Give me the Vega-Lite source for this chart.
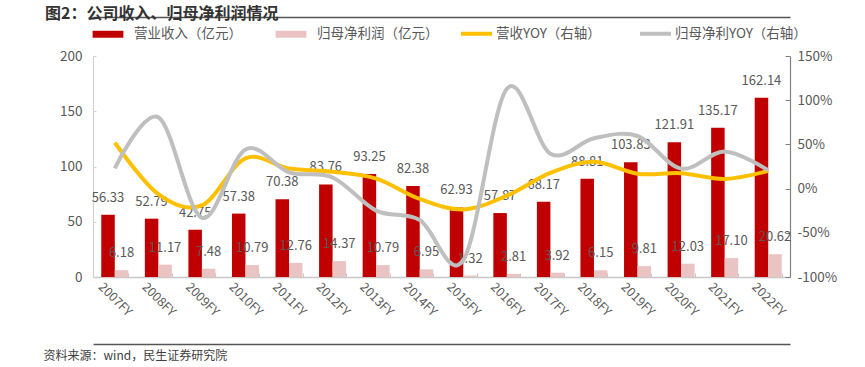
{
  "$schema": "https://vega.github.io/schema/vega-lite/v6.json",
  "width": 697,
  "height": 221,
  "autosize": {"type": "none"},
  "padding": {"left": 93, "top": 56, "right": 75, "bottom": 90},
  "background": "white",
  "config": {
    "view": {"stroke": null},
    "font": "Noto Sans CJK SC",
    "axis": {"labelFont": "Noto Sans CJK SC", "labelColor": "#595959", "domainColor": "#8c8c8c", "tickColor": "#8c8c8c", "grid": false}
  },
  "title": {
    "text": "图2：公司收入、归母净利润情况",
    "anchor": "start",
    "frame": "group",
    "dx": -48,
    "dy": 10,
    "fontSize": 16,
    "fontWeight": "bold",
    "color": "#333333",
    "font": "Noto Sans CJK SC",
    "offset": 2
  },
  "datasets": {
    "bars": [
      {"year": "2007FY", "series": "营业收入（亿元）", "value": 56.33},
      {"year": "2008FY", "series": "营业收入（亿元）", "value": 52.79},
      {"year": "2009FY", "series": "营业收入（亿元）", "value": 42.75},
      {"year": "2010FY", "series": "营业收入（亿元）", "value": 57.38},
      {"year": "2011FY", "series": "营业收入（亿元）", "value": 70.38},
      {"year": "2012FY", "series": "营业收入（亿元）", "value": 83.76},
      {"year": "2013FY", "series": "营业收入（亿元）", "value": 93.25},
      {"year": "2014FY", "series": "营业收入（亿元）", "value": 82.38},
      {"year": "2015FY", "series": "营业收入（亿元）", "value": 62.93},
      {"year": "2016FY", "series": "营业收入（亿元）", "value": 57.87},
      {"year": "2017FY", "series": "营业收入（亿元）", "value": 68.17},
      {"year": "2018FY", "series": "营业收入（亿元）", "value": 88.81},
      {"year": "2019FY", "series": "营业收入（亿元）", "value": 103.83},
      {"year": "2020FY", "series": "营业收入（亿元）", "value": 121.91},
      {"year": "2021FY", "series": "营业收入（亿元）", "value": 135.17},
      {"year": "2022FY", "series": "营业收入（亿元）", "value": 162.14},
      {"year": "2007FY", "series": "归母净利润（亿元）", "value": 6.18},
      {"year": "2008FY", "series": "归母净利润（亿元）", "value": 11.17},
      {"year": "2009FY", "series": "归母净利润（亿元）", "value": 7.48},
      {"year": "2010FY", "series": "归母净利润（亿元）", "value": 10.79},
      {"year": "2011FY", "series": "归母净利润（亿元）", "value": 12.76},
      {"year": "2012FY", "series": "归母净利润（亿元）", "value": 14.37},
      {"year": "2013FY", "series": "归母净利润（亿元）", "value": 10.79},
      {"year": "2014FY", "series": "归母净利润（亿元）", "value": 6.95},
      {"year": "2015FY", "series": "归母净利润（亿元）", "value": 1.32},
      {"year": "2016FY", "series": "归母净利润（亿元）", "value": 2.81},
      {"year": "2017FY", "series": "归母净利润（亿元）", "value": 3.92},
      {"year": "2018FY", "series": "归母净利润（亿元）", "value": 6.15},
      {"year": "2019FY", "series": "归母净利润（亿元）", "value": 9.81},
      {"year": "2020FY", "series": "归母净利润（亿元）", "value": 12.03},
      {"year": "2021FY", "series": "归母净利润（亿元）", "value": 17.10},
      {"year": "2022FY", "series": "归母净利润（亿元）", "value": 20.62}
    ],
    "yoy": [
      {"year": "2007FY", "name": "营收YOY（右轴）", "yoy": 52},
      {"year": "2008FY", "name": "营收YOY（右轴）", "yoy": -6.3},
      {"year": "2009FY", "name": "营收YOY（右轴）", "yoy": -19.0},
      {"year": "2010FY", "name": "营收YOY（右轴）", "yoy": 34.2},
      {"year": "2011FY", "name": "营收YOY（右轴）", "yoy": 22.7},
      {"year": "2012FY", "name": "营收YOY（右轴）", "yoy": 19.0},
      {"year": "2013FY", "name": "营收YOY（右轴）", "yoy": 11.3},
      {"year": "2014FY", "name": "营收YOY（右轴）", "yoy": -11.7},
      {"year": "2015FY", "name": "营收YOY（右轴）", "yoy": -23.6},
      {"year": "2016FY", "name": "营收YOY（右轴）", "yoy": -8.0},
      {"year": "2017FY", "name": "营收YOY（右轴）", "yoy": 17.8},
      {"year": "2018FY", "name": "营收YOY（右轴）", "yoy": 30.3},
      {"year": "2019FY", "name": "营收YOY（右轴）", "yoy": 16.9},
      {"year": "2020FY", "name": "营收YOY（右轴）", "yoy": 17.4},
      {"year": "2021FY", "name": "营收YOY（右轴）", "yoy": 10.9},
      {"year": "2022FY", "name": "营收YOY（右轴）", "yoy": 20.0},
      {"year": "2007FY", "name": "归母净利YOY（右轴）", "yoy": 23},
      {"year": "2008FY", "name": "归母净利YOY（右轴）", "yoy": 80.7},
      {"year": "2009FY", "name": "归母净利YOY（右轴）", "yoy": -33.0},
      {"year": "2010FY", "name": "归母净利YOY（右轴）", "yoy": 44.3},
      {"year": "2011FY", "name": "归母净利YOY（右轴）", "yoy": 18.3},
      {"year": "2012FY", "name": "归母净利YOY（右轴）", "yoy": 12.6},
      {"year": "2013FY", "name": "归母净利YOY（右轴）", "yoy": -24.9},
      {"year": "2014FY", "name": "归母净利YOY（右轴）", "yoy": -35.6},
      {"year": "2015FY", "name": "归母净利YOY（右轴）", "yoy": -81.0},
      {"year": "2016FY", "name": "归母净利YOY（右轴）", "yoy": 112.9},
      {"year": "2017FY", "name": "归母净利YOY（右轴）", "yoy": 39.5},
      {"year": "2018FY", "name": "归母净利YOY（右轴）", "yoy": 56.9},
      {"year": "2019FY", "name": "归母净利YOY（右轴）", "yoy": 59.5},
      {"year": "2020FY", "name": "归母净利YOY（右轴）", "yoy": 22.6},
      {"year": "2021FY", "name": "归母净利YOY（右轴）", "yoy": 42.1},
      {"year": "2022FY", "name": "归母净利YOY（右轴）", "yoy": 20.6}
    ]
  },
  "layer": [
    {
      "data": {"name": "bars"},
      "mark": {"type": "bar"},
      "encoding": {
        "x": {
          "field": "year", "type": "nominal", "sort": null,
          "scale": {"paddingInner": 0.38, "paddingOuter": 0.19},
          "axis": {"title": null, "labelAngle": 45, "labelAlign": "center", "labelBaseline": "middle", "labelPadding": 26, "labelFontSize": 12.5, "tickBand": "extent", "tickSize": -4, "labelBound": false, "labelOverlap": false, "domainWidth": 1.5, "domainColor": "#c8c8c8", "tickColor": "#c8c8c8"}
        },
        "xOffset": {"field": "series", "type": "nominal", "sort": ["营业收入（亿元）", "归母净利润（亿元）"]},
        "y": {
          "field": "value", "type": "quantitative",
          "scale": {"domain": [0, 200], "nice": false},
          "axis": {"title": null, "values": [0, 50, 100, 150, 200], "labelFontSize": 13.5, "tickSize": -3, "labelPadding": 14, "domainWidth": 1.2, "domainColor": "#d0d0d0", "tickColor": "#d0d0d0"}
        },
        "color": {
          "field": "series", "type": "nominal",
          "scale": {"domain": ["营业收入（亿元）", "归母净利润（亿元）"], "range": ["#C00000", "#EAC3C3"]},
          "legend": {
            "title": null, "orient": "none", "direction": "horizontal", "legendX": 8, "legendY": -29,
            "symbolType": "M-2.2,-0.5H2.2V0.5H-2.2Z", "symbolSize": 196, "symbolStrokeWidth": 0,
            "labelFontSize": 13.5, "labelColor": "#595959", "labelFont": "Noto Sans CJK SC", "columnPadding": 33, "labelOffset": 19
          }
        }
      }
    },
    {
      "data": {"name": "bars"},
      "mark": {"type": "text", "dy": -17, "fontSize": 13, "color": "#595959", "font": "Noto Sans CJK SC"},
      "encoding": {
        "x": {
          "field": "year", "type": "nominal", "sort": null,
          "axis": {"orient": "top", "offset": 39, "title": null, "domainColor": "#555555", "domainWidth": 1.5, "labelFontSize": 1, "labelOpacity": 0, "labelPadding": 0, "tickSize": 0, "tickOpacity": 0}
        },
        "xOffset": {"field": "series", "type": "nominal", "sort": ["营业收入（亿元）", "归母净利润（亿元）"]},
        "y": {"field": "value", "type": "quantitative", "scale": {"domain": [0, 200], "nice": false}, "axis": null},
        "text": {"field": "value", "type": "quantitative", "format": ".2f"}
      }
    },
    {
      "data": {"name": "yoy"},
      "mark": {"type": "line", "interpolate": "cardinal", "strokeWidth": 4},
      "encoding": {
        "x": {
          "field": "year", "type": "nominal", "sort": null,
          "axis": {"orient": "bottom", "offset": 67, "domainColor": "#555555", "domainWidth": 1.5, "labelFontSize": 1, "labelOpacity": 0, "labelPadding": 0, "tickSize": 0, "tickOpacity": 0,
            "title": "资料来源：wind，民生证券研究院", "titleFontSize": 12, "titleFontWeight": "normal", "titleColor": "#404040", "titleFont": "Noto Sans CJK SC", "titleAnchor": "start", "titleAlign": "left", "titleX": -50, "titleY": 6, "titleBaseline": "top"}
        },
        "y": {
          "field": "yoy", "type": "quantitative",
          "scale": {"domain": [-100, 150], "nice": false},
          "axis": {"orient": "right", "title": null, "values": [-100, -50, 0, 50, 100, 150], "labelExpr": "datum.value + '%'", "labelFontSize": 13.5, "tickSize": -5, "labelPadding": 12, "domainWidth": 1.2, "domainColor": "#808080", "tickColor": "#808080"}
        },
        "color": {
          "field": "name", "type": "nominal", "sort": null,
          "scale": {"domain": ["营收YOY（右轴）", "归母净利YOY（右轴）"], "range": ["#FFC000", "#BFBFBF"]},
          "legend": {
            "title": null, "orient": "none", "direction": "horizontal", "legendX": 366, "legendY": -40,
            "symbolType": "stroke", "symbolSize": 961, "symbolStrokeWidth": 4,
            "labelFontSize": 13.5, "labelColor": "#595959", "labelFont": "Noto Sans CJK SC", "columnPadding": 31, "labelOffset": 2
          }
        }
      }
    }
  ],
  "resolve": {
    "scale": {"y": "independent", "color": "independent"},
    "axis": {"x": "independent"},
    "legend": {"color": "independent"}
  }
}
